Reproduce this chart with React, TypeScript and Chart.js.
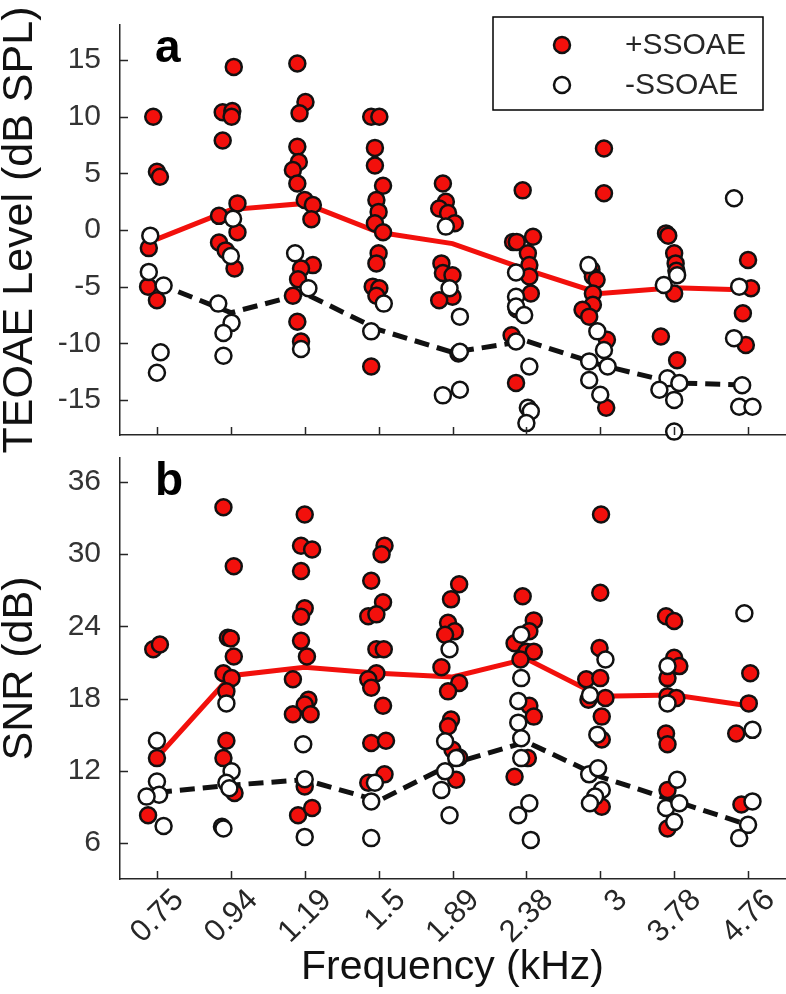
import React, { useEffect, useRef } from 'react';
import { Chart, registerables } from 'chart.js';

Chart.register(...registerables);

const FONT = '"Liberation Sans", Arial, Helvetica, sans-serif';
const AXIS_COLOR = '#262626';
const RED = 'rgb(242,16,12)';

const categories = ['0.75', '0.94', '1.19', '1.5', '1.89', '2.38', '3', '3.78', '4.76'];

const levelTicks = [-15, -10, -5, 0, 5, 10, 15];
const snrTicks = [6, 12, 18, 24, 30, 36];

// Panel a: TEOAE level (dB SPL)
const levelPos: number[][] = [
  [10.0, 5.15, 4.7, -1.6, -5.0, -6.2],
  [14.4, 10.4, 10.5, 10.0, 7.9, 2.35, 1.25, -0.2, -1.1, -1.8, -3.4],
  [14.7, 11.3, 10.3, 7.35, 6.0, 5.3, 4.1, 2.65, 2.2, 0.95, -3.1, -3.4, -4.35, -5.8, -8.1, -9.85],
  [10.0, 10.0, 7.25, 5.7, 3.9, 2.65, 1.6, 0.6, -0.2, -2.05, -2.95, -5.0, -5.15, -5.8, -12.05],
  [4.1, 2.5, 1.9, 1.5, 0.6, -2.95, -3.8, -4.0, -5.9, -6.2, -10.9],
  [3.5, -0.6, -1.05, -1.05, -2.05, -3.1, -4.1, -5.6, -7.0, -9.3, -13.5],
  [7.2, 3.25, -3.5, -4.1, -4.4, -5.6, -6.6, -7.05, -7.65, -9.7, -15.7],
  [-0.3, -0.5, -2.05, -2.95, -3.6, -5.6, -9.4, -11.5],
  [-2.65, -5.15, -7.35, -10.15],
];
const levelPosJitter: number[][] = [
  [-0.05, 0, 0.04, -0.11, -0.12, 0],
  [0.04, -0.11, 0.02, 0.01, -0.11, 0.09, -0.16, 0.09, -0.16, -0.07, 0.05],
  [-0.1, 0.01, -0.07, -0.1, -0.08, -0.16, -0.1, 0, 0.11, 0.09, 0.11, -0.05, -0.09, -0.16, -0.1, -0.05],
  [-0.1, 0.01, -0.05, -0.05, 0.06, -0.03, 0, -0.05, 0.06, 0, -0.03, -0.08, 0.01, -0.03, -0.1],
  [-0.13, -0.09, -0.18, -0.06, 0.03, -0.15, -0.13, 0, 0, -0.18, 0.08],
  [-0.05, 0.09, -0.18, -0.13, 0.02, 0.04, 0.04, 0.06, -0.13, -0.2, -0.14],
  [0.05, 0.05, -0.12, -0.1, -0.05, -0.1, -0.1, -0.24, -0.15, 0.09, 0.08],
  [-0.11, -0.08, 0, 0.02, 0.03, 0, -0.18, 0.04],
  [0, 0.04, -0.07, -0.03],
];
const levelNeg: number[][] = [
  [-0.5, -3.7, -4.9, -10.8, -12.6],
  [1.0, -2.3, -6.5, -8.2, -9.1, -11.1],
  [-2.05, -5.15, -10.5],
  [-6.5, -8.95],
  [0.3, -5.15, -7.65, -10.75, -14.1, -14.6],
  [-3.75, -5.9, -6.75, -7.5, -9.85, -12.05, -15.7, -16.0, -17.05],
  [-3.1, -8.95, -10.6, -11.6, -12.05, -13.25, -14.55],
  [-4.0, -4.85, -13.1, -13.5, -14.1, -15.0, -17.8],
  [2.8, -5.0, -9.55, -13.7, -15.6, -15.6],
];
const levelNegJitter: number[][] = [
  [-0.09, -0.11, 0.09, 0.05, 0],
  [0.03, 0.0, -0.17, 0.01, -0.1, -0.1],
  [-0.13, 0.05, -0.05],
  [0.07, -0.1],
  [-0.09, -0.04, 0.1, 0.1, 0.1, -0.13],
  [-0.14, -0.14, -0.14, -0.03, -0.14, 0.04, 0.02, 0.06, 0],
  [-0.16, -0.04, 0.05, -0.15, 0.1, -0.15, 0],
  [0.04, -0.14, -0.09, 0.07, -0.2, 0, 0],
  [-0.19, -0.12, -0.19, -0.08, -0.12, 0.06],
];
const levelPosMean = [-0.8, 1.8, 2.35, -0.2, -1.2, -3.5, -5.6, -5.1, -5.3];
const levelNegMean = [-4.7, -7.3, -5.6, -8.8, -10.8, -9.8, -11.9, -13.5, -13.7];

// Panel b: SNR (dB)
const snrPos: number[][] = [
  [22.1, 22.5, 13.05, 8.3],
  [33.9, 29.0, 23.05, 23.0, 21.5, 20.1, 19.7, 18.6, 14.5, 13.05, 10.15],
  [33.3, 30.7, 30.4, 28.6, 25.5, 24.8, 22.8, 21.5, 19.6, 17.9, 17.5, 16.7, 16.7, 10.7, 8.3, 8.9],
  [30.7, 30.0, 27.8, 26.0, 24.85, 25.0, 22.1, 22.1, 20.1, 19.6, 18.9, 17.4, 14.3, 14.5, 11.0, 11.7],
  [27.5, 26.25, 24.3, 23.6, 23.3, 20.6, 19.3, 18.6, 16.25, 15.7, 13.75, 13.1, 11.25],
  [26.5, 24.5, 23.6, 22.6, 21.9, 21.9, 21.25, 17.4, 16.5, 13.05, 11.5],
  [33.3, 26.8, 22.2, 19.6, 19.7, 17.9, 18.05, 16.5, 14.6, 9.0],
  [24.85, 24.45, 21.4, 20.7, 19.7, 18.2, 18.05, 15.1, 14.2, 10.4, 7.2],
  [20.1, 17.6, 15.1, 9.2],
];
const snrPosJitter: number[][] = [
  [-0.05, 0.04, 0, -0.12],
  [-0.1, 0.04, -0.04, 0.0, 0.04, -0.1, 0.01, -0.06, -0.06, -0.1, 0.05],
  [0, -0.05, 0.1, -0.05, 0, -0.05, -0.05, 0.03, -0.16, 0.05, 0, -0.16, 0.08, 0, -0.09, 0.1],
  [0.08, 0.04, -0.1, 0.06, -0.14, -0.03, -0.03, 0.07, -0.03, -0.14, -0.1, 0.06, -0.1, 0.1, -0.14, 0.08],
  [0.09, -0.02, -0.06, 0.03, -0.1, -0.15, 0.09, -0.06, -0.02, -0.06, 0.0, 0.09, 0.05],
  [-0.05, 0.1, 0.04, -0.16, 0, 0.1, -0.08, 0.04, 0.1, 0.02, -0.16],
  [0.01, 0, -0.01, -0.19, 0, -0.16, 0.07, 0.02, 0.02, 0.02],
  [-0.11, 0, 0, 0.07, -0.09, -0.09, 0.03, -0.11, -0.09, -0.09, -0.09],
  [0.03, 0.01, -0.16, -0.09],
];
const snrNeg: number[][] = [
  [14.5, 11.1, 10.0, 9.85, 7.4],
  [17.6, 11.95, 11.0, 10.55, 7.35, 7.2],
  [14.2, 11.3, 6.5],
  [11.0, 9.45, 6.4],
  [22.1, 14.45, 13.05, 11.95, 10.4, 8.3],
  [23.3, 19.7, 17.8, 16.0, 14.7, 13.05, 8.3, 9.3, 6.25],
  [21.25, 18.3, 15.0, 11.7, 12.2, 10.4, 9.85, 9.3],
  [20.7, 17.6, 11.25, 8.9, 9.3, 7.75],
  [25.1, 15.4, 9.45, 7.5, 6.4],
];
const snrNegJitter: number[][] = [
  [0, 0, 0.03, -0.14, 0.09],
  [-0.06, 0.01, -0.06, -0.02, -0.12, -0.1],
  [-0.02, 0, 0],
  [-0.05, -0.1, -0.1],
  [-0.04, -0.1, 0.05, -0.1, -0.15, -0.04],
  [-0.07, -0.07, -0.11, -0.11, -0.07, -0.07, -0.11, 0.04, 0.06],
  [0.07, -0.14, -0.04, -0.15, -0.03, 0.02, -0.07, -0.14],
  [-0.09, -0.09, 0.04, -0.11, 0.07, 0],
  [-0.05, 0.06, 0.06, 0, -0.12],
];
const snrPosMean = [13.1, 19.9, 20.6, 20.1, 19.8, 21.3, 18.2, 18.3, 17.4];
const snrNegMean = [10.2, 10.8, 11.25, 9.5, 12.6, 14.4, 11.5, 9.5, 7.5];

const legendLabels = ['+SSOAE', '-SSOAE'];

function buildPoints(vals: number[][], jit: number[][]) {
  return vals.flatMap((col, i) => col.map((v, j) => ({ x: i + 1 + (jit[i]?.[j] ?? 0), y: v })));
}
function buildMean(means: number[]) {
  return means.map((v, i) => ({ x: i + 1, y: v }));
}

function zeroPadding(s: any) {
  s.paddingTop = 0;
  s.paddingBottom = 0;
  s.paddingLeft = 0;
  s.paddingRight = 0;
}

const inwardTicks = {
  id: 'inwardTicks',
  afterDatasetsDraw(chart: any) {
    const { ctx, chartArea, scales } = chart;
    ctx.save();
    ctx.strokeStyle = AXIS_COLOR;
    ctx.lineWidth = 1.5;
    ctx.beginPath();
    scales.x.ticks.forEach((t: any) => {
      const px = Math.round(scales.x.getPixelForValue(t.value)) + 0.5;
      ctx.moveTo(px, chartArea.bottom);
      ctx.lineTo(px, chartArea.bottom - 8);
    });
    scales.y.ticks.forEach((t: any) => {
      const py = Math.round(scales.y.getPixelForValue(t.value)) + 0.5;
      ctx.moveTo(chartArea.left, py);
      ctx.lineTo(chartArea.left + 8, py);
    });
    ctx.stroke();
    ctx.restore();
  },
};

const panelLetter = {
  id: 'panelLetter',
  afterDraw(chart: any, _args: any, opts: any) {
    if (!opts || !opts.text) return;
    const { ctx, chartArea } = chart;
    ctx.save();
    ctx.fillStyle = '#000';
    ctx.font = `bold 46px ${FONT}`;
    ctx.textAlign = 'left';
    ctx.textBaseline = 'alphabetic';
    ctx.fillText(opts.text, chartArea.left + 35, chartArea.top + 37);
    ctx.restore();
  },
};

const legendBox = {
  id: 'legendBox',
  afterDraw(chart: any, _args: any, opts: any) {
    if (!opts || !opts.display) return;
    const { ctx, chartArea } = chart;
    const w = 270;
    const h = 93;
    const x0 = chartArea.right - 22 - w;
    const y0 = chartArea.top - 8;
    ctx.save();
    ctx.fillStyle = '#fff';
    ctx.fillRect(x0, y0, w, h);
    ctx.strokeStyle = '#000';
    ctx.lineWidth = 1.5;
    ctx.strokeRect(x0, y0, w, h);
    const ds = chart.data.datasets;
    const entries = [ds[1], ds[0]];
    entries.forEach((d: any, i: number) => {
      const cy = y0 + 28 + i * 40;
      ctx.beginPath();
      ctx.arc(x0 + 69, cy, d.pointRadius, 0, Math.PI * 2);
      ctx.fillStyle = d.backgroundColor;
      ctx.fill();
      ctx.lineWidth = d.borderWidth;
      ctx.strokeStyle = d.borderColor;
      ctx.stroke();
      ctx.fillStyle = AXIS_COLOR;
      ctx.font = `30px ${FONT}`;
      ctx.textAlign = 'left';
      ctx.textBaseline = 'middle';
      ctx.fillText(legendLabels[i], x0 + 132, cy + 1);
    });
    ctx.restore();
  },
};

type PanelSpec = {
  pos: number[][];
  posJit: number[][];
  neg: number[][];
  negJit: number[][];
  posMean: number[];
  negMean: number[];
  yMin: number;
  yMax: number;
  yTicks: number[];
  yTitle: string;
  letter: string;
  legend: boolean;
  xLabels: boolean;
  padTop: number;
  padBottom: number;
  xHeight: number;
};

function makeConfig(p: PanelSpec): any {
  return {
    type: 'scatter',
    data: {
      datasets: [
        {
          label: legendLabels[1],
          data: buildPoints(p.neg, p.negJit),
          backgroundColor: '#ffffff',
          borderColor: '#111111',
          borderWidth: 2.5,
          pointRadius: 8,
          clip: false,
          order: 1,
        },
        {
          label: legendLabels[0],
          data: buildPoints(p.pos, p.posJit),
          backgroundColor: RED,
          borderColor: '#111111',
          borderWidth: 2.5,
          pointRadius: 8,
          clip: false,
          order: 2,
        },
        {
          label: 'mean -',
          data: buildMean(p.negMean),
          showLine: true,
          borderColor: '#111111',
          borderWidth: 5,
          borderDash: [15, 8],
          pointRadius: 0,
          order: 3,
        },
        {
          label: 'mean +',
          data: buildMean(p.posMean),
          showLine: true,
          borderColor: RED,
          borderWidth: 5,
          pointRadius: 0,
          order: 4,
        },
      ],
    },
    options: {
      responsive: false,
      maintainAspectRatio: false,
      animation: false,
      devicePixelRatio: 1,
      events: [],
      layout: { autoPadding: false, padding: { top: p.padTop, right: 1, bottom: p.padBottom, left: 0 } },
      plugins: {
        legend: { display: false },
        tooltip: { enabled: false },
        legendBox: { display: p.legend },
        panelLetter: { text: p.letter },
      },
      scales: {
        x: {
          type: 'linear',
          min: 0.5,
          max: 9.5,
          afterBuildTicks: (s: any) => {
            s.ticks = categories.map((_, i) => ({ value: i + 1 }));
          },
          afterFit: (s: any) => {
            s.height = p.xHeight;
            zeroPadding(s);
          },
          grid: { display: false, drawTicks: false },
          border: { display: true, color: AXIS_COLOR, width: 1.5 },
          ticks: {
            display: p.xLabels,
            autoSkip: false,
            minRotation: 45,
            maxRotation: 45,
            labelOffset: 22,
            padding: 3,
            color: AXIS_COLOR,
            font: { family: FONT, size: 31 },
            callback: (v: any) => categories[Math.round(Number(v)) - 1] ?? '',
          },
          title: {
            display: p.xLabels,
            text: 'Frequency (kHz)',
            color: '#111',
            font: { family: FONT, size: 41 },
            padding: { top: 0, bottom: 2 },
          },
        },
        y: {
          type: 'linear',
          min: p.yMin,
          max: p.yMax,
          afterBuildTicks: (s: any) => {
            s.ticks = p.yTicks.map((v) => ({ value: v }));
          },
          afterFit: (s: any) => {
            s.width = 120;
            zeroPadding(s);
          },
          grid: { display: false, drawTicks: false },
          border: { display: true, color: AXIS_COLOR, width: 1.5 },
          ticks: {
            padding: 19,
            color: '#333',
            font: { family: FONT, size: 30 },
          },
          title: {
            display: true,
            text: p.yTitle,
            color: '#111',
            font: { family: FONT, size: 43, lineHeight: 1 },
            padding: { top: -1, bottom: 0 },
          },
        },
      },
    },
    plugins: [inwardTicks, panelLetter, legendBox],
  };
}

export default function App() {
  const refA = useRef<HTMLCanvasElement | null>(null);
  const refB = useRef<HTMLCanvasElement | null>(null);

  useEffect(() => {
    Chart.defaults.font.family = FONT;
    const a = new Chart(
      refA.current as HTMLCanvasElement,
      makeConfig({
        pos: levelPos,
        posJit: levelPosJitter,
        neg: levelNeg,
        negJit: levelNegJitter,
        posMean: levelPosMean,
        negMean: levelNegMean,
        yMin: -18.1,
        yMax: 18.1,
        yTicks: levelTicks,
        yTitle: 'TEOAE Level (dB SPL)',
        letter: 'a',
        legend: true,
        xLabels: false,
        padTop: 25,
        padBottom: 35,
        xHeight: 0,
      })
    );
    const b = new Chart(
      refB.current as HTMLCanvasElement,
      makeConfig({
        pos: snrPos,
        posJit: snrPosJitter,
        neg: snrNeg,
        negJit: snrNegJitter,
        posMean: snrPosMean,
        negMean: snrNegMean,
        yMin: 3,
        yMax: 38,
        yTicks: snrTicks,
        yTitle: 'SNR (dB)',
        letter: 'b',
        legend: false,
        xLabels: true,
        padTop: 13,
        padBottom: 0,
        xHeight: 115,
      })
    );
    return () => {
      a.destroy();
      b.destroy();
    };
  }, []);

  return (
    <div style={{ position: 'absolute', left: 0, top: 0, width: 786, height: 994, background: '#fff', overflow: 'hidden' }}>
      <canvas ref={refB} width={786} height={549} style={{ position: 'absolute', left: 0, top: 445, display: 'block' }} />
      <canvas ref={refA} width={786} height={470} style={{ position: 'absolute', left: 0, top: 0, display: 'block' }} />
    </div>
  );
}
